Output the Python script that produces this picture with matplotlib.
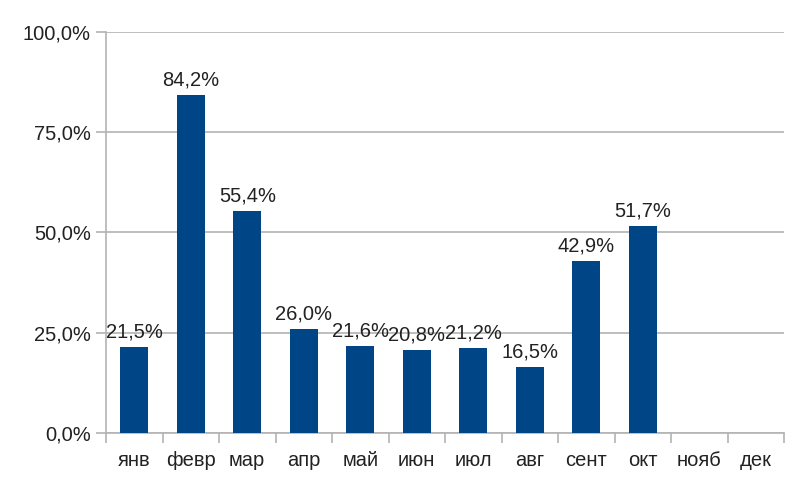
import numpy as np
import matplotlib
matplotlib.use("Agg")
import matplotlib.pyplot as plt
from matplotlib.ticker import FixedLocator, FuncFormatter

# data
months = ["янв", "февр", "мар", "апр", "май", "июн", "июл", "авг", "сент", "окт", "нояб", "дек"]
values = [21.5, 84.2, 55.4, 26.0, 21.6, 20.8, 21.2, 16.5, 42.9, 51.7, None, None]
y_ticks = [0, 25, 50, 75, 100]

BAR_COLOR = "#004586"
GRID_COLOR = "#b3b3b3"
TEXT_COLOR = "#222222"
FS = 14.5

plt.rcParams["font.family"] = ["Liberation Sans", "DejaVu Sans"]

fig = plt.figure(figsize=(8, 4.91), dpi=100)
ax = fig.add_axes([0.1325, 0.118, 0.8475, 0.817])

x = np.arange(len(months))
for xi, v in zip(x, values):
    if v is None:
        continue
    ax.bar(xi, v, width=0.5, color=BAR_COLOR, zorder=3)
    ax.annotate(f"{v:.1f}%".replace(".", ","), (xi, v), xytext=(0, 4),
                textcoords="offset points", ha="center", va="bottom",
                fontsize=FS, color=TEXT_COLOR, zorder=4)

ax.set_xlim(-0.5, len(months) - 0.5)
ax.set_ylim(0, 100)

ax.set_xticks(x)
ax.set_xticklabels(months)
ax.xaxis.set_minor_locator(FixedLocator(np.arange(-0.5, len(months), 1)))
ax.tick_params(axis="x", which="major", length=0, pad=13,
               labelsize=FS, labelcolor=TEXT_COLOR)
ax.tick_params(axis="x", which="minor", length=7, width=1.2, color=GRID_COLOR)

ax.set_yticks(y_ticks)
ax.yaxis.set_major_formatter(FuncFormatter(lambda v, p: f"{v:.1f}%".replace(".", ",")))
ax.tick_params(axis="y", length=7, width=1.2, color=GRID_COLOR, pad=4,
               labelsize=FS, labelcolor=TEXT_COLOR)

ax.grid(axis="y", color=GRID_COLOR, linewidth=1.2, zorder=0)
ax.set_axisbelow(True)
for side in ["top", "right"]:
    ax.spines[side].set_visible(False)
for side in ["left", "bottom"]:
    ax.spines[side].set_color(GRID_COLOR)
    ax.spines[side].set_linewidth(1.2)

fig.savefig("out.png", dpi=100)
